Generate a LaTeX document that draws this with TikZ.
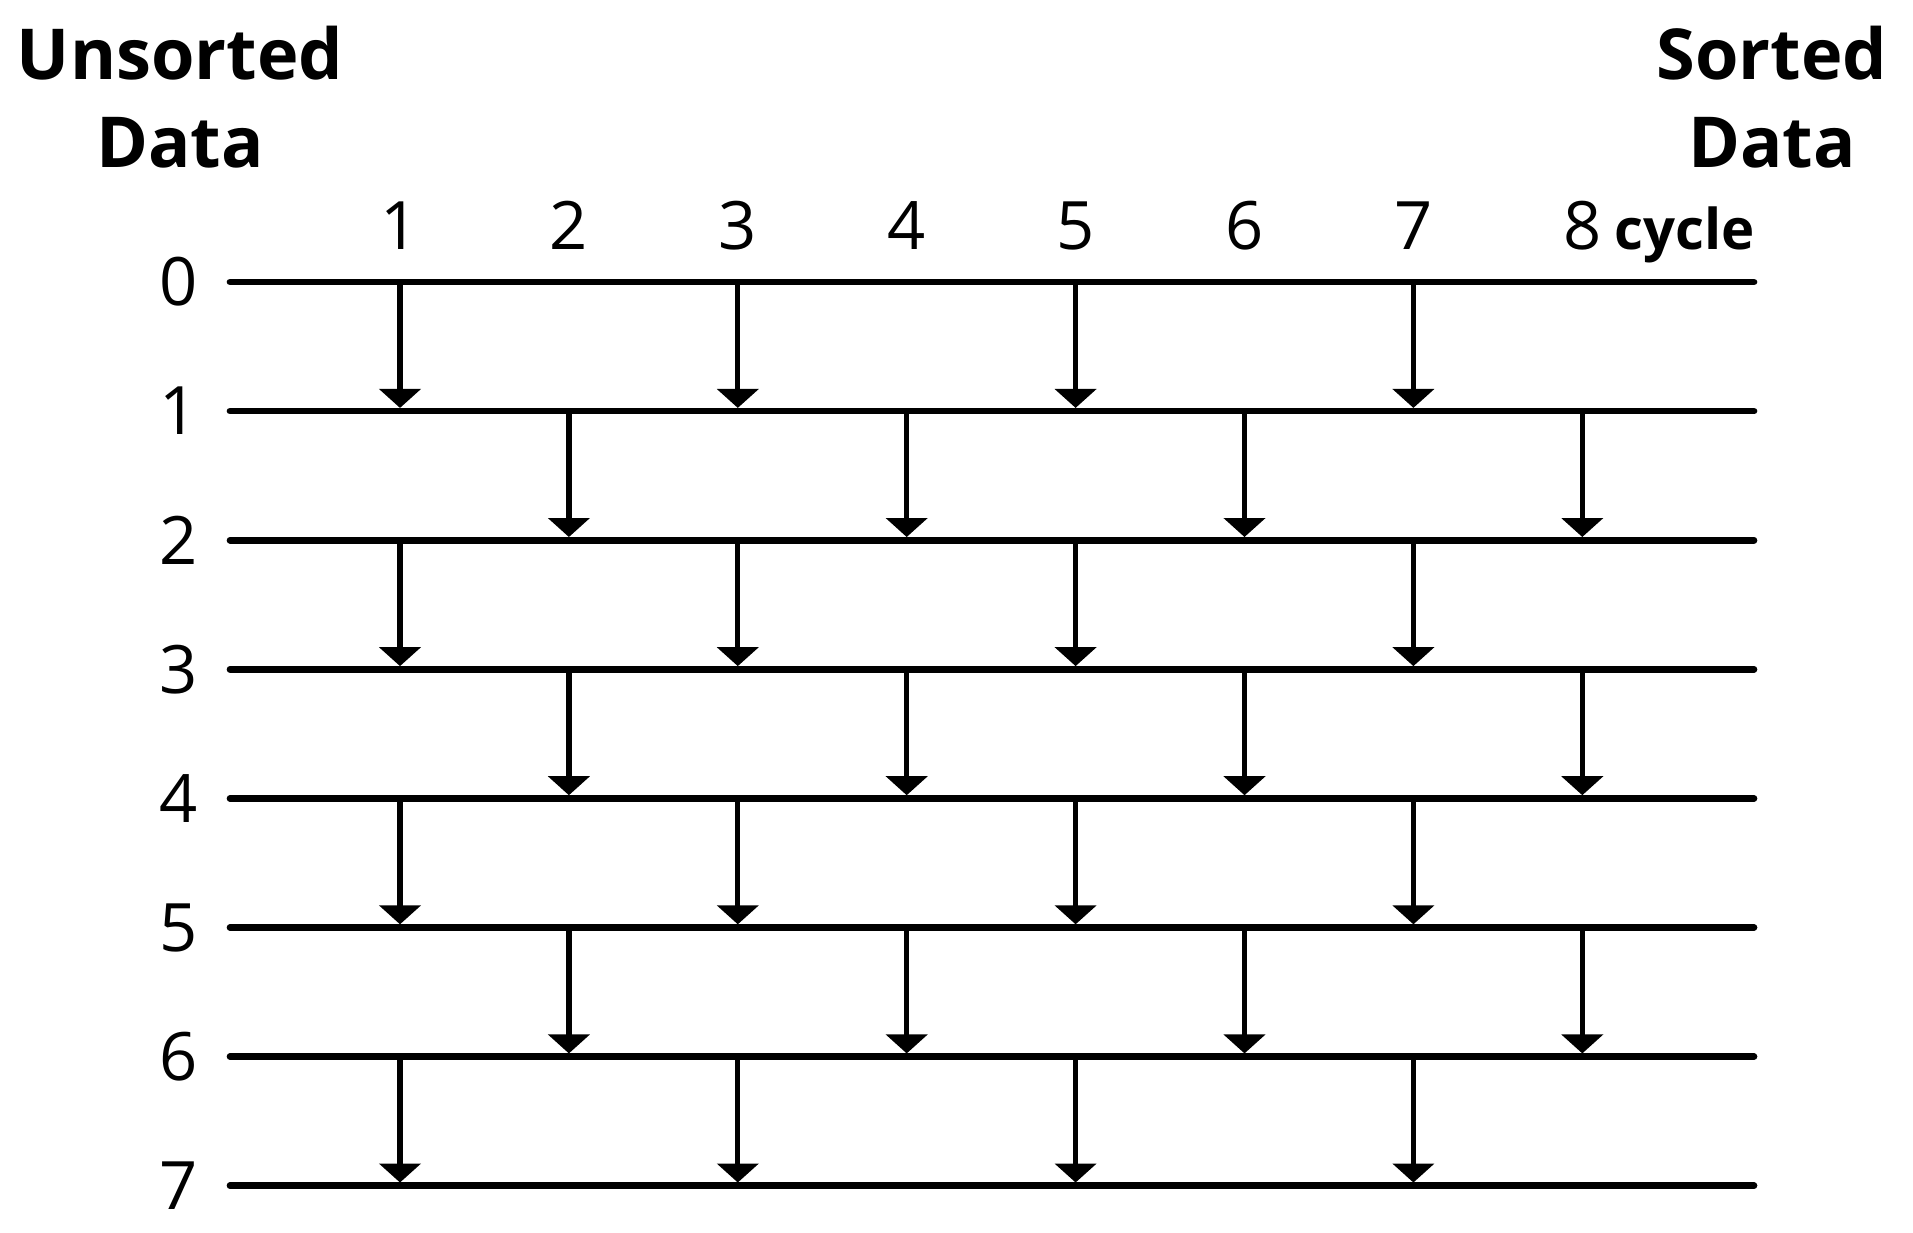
\documentclass[tikz,border=0pt]{standalone}
\usepackage{fontspec}
\setmainfont{Open Sans}
\usetikzlibrary{arrows.meta, positioning}
\tikzstyle{wire} = [line width=1.9pt, line cap=round]
\tikzstyle{cmp} = [line width=1.5pt, shorten >=0.9pt, -{Triangle[width=4.1mm,length=1.9mm]}]
\tikzstyle{num} = [inner sep=0, font=\fontsize{19}{23}\selectfont]
\tikzstyle{heading} = [inner sep=0, anchor=base, font=\bfseries\fontsize{20}{25}\selectfont]

\begin{document}
\begin{tikzpicture}
		\useasboundingbox (0,0) rectangle (19.13,-12.33);
		% wires and row numbers
		\foreach \r in {0,...,7}{
			\coordinate (w\r-L) at (2.30,-2.82-1.291*\r);
			\coordinate (w\r-R) at (17.54,-2.82-1.291*\r);
			\foreach \c in {1,...,8}
				\coordinate (w\r-\c) at (4.00+1.689*\c-1.689,-2.82-1.291*\r);
			\draw[wire](w\r-L)--(w\r-R);
			\node[num,left=3.2mm of w\r-L](r\r){\r};
		}
		% cycle numbers
		\foreach \c in {1,...,8}
			\node[num,anchor=base](c\c) at ([yshift=3.2mm]w0-\c){\c};
		\node[inner sep=0,anchor=base west,font=\bfseries\fontsize{16}{19}\selectfont](cyc) at ([xshift=1.2mm]c8.base east){cycle};
		
		\node[heading](uns) at (1.80,-0.80){Unsorted};
		\node[heading](udata) at ([yshift=-8.8mm]uns.base){Data};
		\node[heading](srt) at (17.72,-0.80){Sorted};
		\node[heading](sdata) at ([yshift=-8.8mm]srt.base){Data};
		
		% compare steps
		\foreach \c in {1,3,5,7}
			\foreach \r/\s in {0/1,2/3,4/5,6/7}
				\draw[cmp](w\r-\c)--(w\s-\c);
		\foreach \c in {2,4,6,8}
			\foreach \r/\s in {1/2,3/4,5/6}
				\draw[cmp](w\r-\c)--(w\s-\c);
\end{tikzpicture}
\end{document}
